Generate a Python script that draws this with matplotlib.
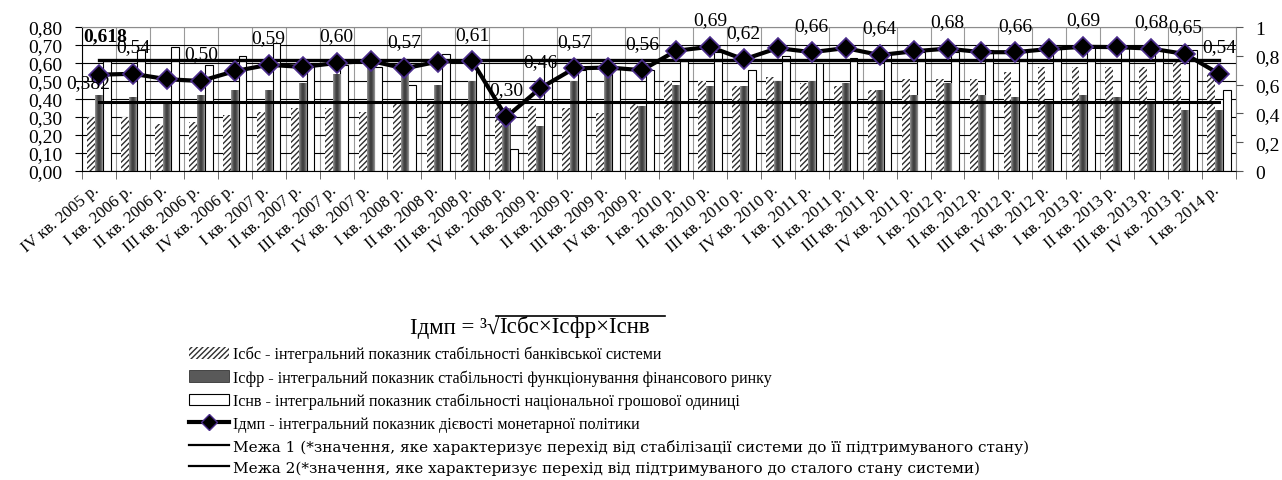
import matplotlib
matplotlib.use("Agg")
import matplotlib.pyplot as plt
import numpy as np
from matplotlib.lines import Line2D
from matplotlib.patches import Patch
from matplotlib.colors import LinearSegmentedColormap
from matplotlib.ticker import FuncFormatter, MultipleLocator, FixedLocator
from matplotlib.transforms import ScaledTranslation

plt.rcParams['font.family'] = ['Liberation Serif', 'DejaVu Serif']
plt.rcParams['hatch.linewidth'] = 1.0

# quarters on the x axis
quarters = ["IV кв. 2005 р.",
            "I кв. 2006 р.", "II кв. 2006 р.", "III кв. 2006 р.", "IV кв. 2006 р.",
            "I кв. 2007 р.", "II кв. 2007 р.", "III кв. 2007 р.", "IV кв. 2007 р.",
            "I кв. 2008 р.", "II кв. 2008 р.", "III кв. 2008 р.", "IV кв. 2008 р.",
            "I кв. 2009 р.", "II кв. 2009 р.", "III кв. 2009 р.", "IV кв. 2009 р.",
            "I кв. 2010 р.", "II кв. 2010 р.", "III кв. 2010 р.", "IV кв. 2010 р.",
            "I кв. 2011 р.", "II кв. 2011 р.", "III кв. 2011 р.", "IV кв. 2011 р.",
            "I кв. 2012 р.", "II кв. 2012 р.", "III кв. 2012 р.", "IV кв. 2012 р.",
            "I кв. 2013 р.", "II кв. 2013 р.", "III кв. 2013 р.", "IV кв. 2013 р.",
            "I кв. 2014 р."]

# bars
i_sbs = [0.30, 0.30, 0.26, 0.27, 0.31, 0.33, 0.35, 0.35, 0.33, 0.37, 0.37, 0.38,
         0.36, 0.36, 0.35, 0.32, 0.38, 0.50, 0.50, 0.47, 0.52, 0.49, 0.47, 0.45,
         0.51, 0.51, 0.51, 0.55, 0.58, 0.58, 0.58, 0.58, 0.61, 0.54]
i_sfr = [0.42, 0.41, 0.38, 0.42, 0.45, 0.45, 0.49, 0.54, 0.59, 0.57, 0.48, 0.50,
         0.35, 0.25, 0.50, 0.54, 0.36, 0.48, 0.47, 0.47, 0.50, 0.50, 0.49, 0.45,
         0.42, 0.49, 0.42, 0.41, 0.38, 0.42, 0.41, 0.39, 0.34, 0.34]
i_snv = [0.61, 0.67, 0.69, 0.59, 0.64, 0.71, 0.58, 0.59, 0.58, 0.48, 0.65, 0.60,
         0.12, 0.62, 0.56, 0.58, 0.56, 0.61, 0.66, 0.56, 0.64, 0.60, 0.63, 0.65,
         0.66, 0.66, 0.67, 0.66, 0.68, 0.69, 0.69, 0.68, 0.67, 0.45]

# integral index of monetary policy
i_dmp = [0.535, 0.54, 0.51, 0.50, 0.555, 0.59, 0.578, 0.60, 0.612, 0.57, 0.608, 0.61,
         0.30, 0.46, 0.57, 0.575, 0.56, 0.668, 0.69, 0.62, 0.683, 0.66, 0.683, 0.644,
         0.665, 0.68, 0.66, 0.66, 0.678, 0.69, 0.688, 0.68, 0.65, 0.54]
labelled = [1, 3, 5, 7, 9, 11, 12, 13, 14, 16, 18, 19, 21, 23, 25, 27, 29, 31, 32, 33]

mezha1 = 0.382
mezha2 = 0.618

def comma(v, nd=2):
    return f"{v:.{nd}f}".replace('.', ',')

W, H = 1282, 481
fig = plt.figure(figsize=(W / 100, H / 100), dpi=100)
ax = fig.add_axes([82 / W, 1 - 172 / H, (1236 - 82) / W, 144 / H])

n = len(quarters)
x = np.arange(n)
w = 0.23

ax.bar(x - w, i_sbs, w, color='white', edgecolor='#2e2e2e', hatch='//////', linewidth=0, zorder=2)
dark = ax.bar(x, i_sfr, w, color='#595959', edgecolor='#333333', linewidth=0.6, zorder=2)
ax.bar(x + w, i_snv, w, color='white', edgecolor='black', linewidth=0.8, zorder=2)

# shaded look of the dark bars
grad = np.abs(np.linspace(-1, 1, 32))[None, :]
cm = LinearSegmentedColormap.from_list('sh', ['#3a3a3a', '#5a5a5a', '#9a9a9a'])
for rect in dark:
    im = ax.imshow(grad, cmap=cm, aspect='auto', zorder=2.1, interpolation='bilinear',
                   extent=[rect.get_x(), rect.get_x() + rect.get_width(), 0, rect.get_height()])
    im.set_clip_path(rect)

ax.plot(x, [mezha1] * n, color='black', lw=2.2, zorder=3)
ax.plot(x, [mezha2] * n, color='black', lw=2.4, zorder=3)
ax.plot(x, i_dmp, color='black', lw=3, marker='D', ms=10, mfc='black',
        mec='#4b2c8c', mew=1.2, zorder=4)

for i in labelled:
    ax.annotate(comma(i_dmp[i]), (x[i], i_dmp[i]), xytext=(0, 19.5),
                textcoords='offset points', ha='center', va='center', fontsize=14, zorder=5)

ax.annotate(comma(mezha2, 3), (x[0], mezha2), xytext=(4.5, 17),
            textcoords='offset points', ha='center', va='center', fontsize=14,
            fontweight='bold', zorder=5)
ax.annotate(comma(mezha1, 3), (x[0], mezha1), xytext=(-8, 14),
            textcoords='offset points', ha='center', va='center', fontsize=14, zorder=5)

ax.set_xlim(-0.5, n - 0.5)
ax.set_ylim(0, 0.8)
ax.yaxis.set_major_locator(MultipleLocator(0.1))
ax.yaxis.set_major_formatter(FuncFormatter(lambda v, p: comma(v)))
ax.set_axisbelow(True)
ax.grid(axis='y', color='black', lw=0.8)
ax.xaxis.set_minor_locator(FixedLocator(np.arange(n + 1) - 0.5))
ax.grid(axis='x', which='minor', color='#9a9a9a', lw=0.8)

ax.set_xticks(x)
ax.set_xticklabels(quarters, rotation=40, ha='right', va='center', rotation_mode='anchor', fontsize=12)
ax.tick_params(axis='x', which='major', length=0, pad=12)
ax.tick_params(axis='x', which='minor', length=6, direction='out', color='#555555')
ax.tick_params(axis='y', length=5, direction='out', labelsize=14, pad=9)
shift = ScaledTranslation(-2 / 100, 0, fig.dpi_scale_trans)
for lab in ax.get_xticklabels():
    lab.set_transform(lab.get_transform() + shift)

for s in ['top', 'right']:
    ax.spines[s].set_color('#8c8c8c')

ax2 = ax.twinx()
ax2.set_ylim(0, 1)
ax2.yaxis.set_major_locator(MultipleLocator(0.2))
ax2.yaxis.set_major_formatter(FuncFormatter(lambda v, p: comma(round(v, 1), 1).replace(',0', '')))
ax2.tick_params(axis='y', length=5, direction='out', labelsize=14, pad=9, color='#555555')
for s in ['top', 'right', 'left', 'bottom']:
    ax2.spines[s].set_visible(False)

# formula above legend
fy = 1 - 327 / H
t1 = fig.text(410 / W, fy, "Ідмп = ³√", ha='left', va='center', fontsize=16.5)
fig.canvas.draw()
r = fig.canvas.get_renderer()
b1 = t1.get_window_extent(r)
t2 = fig.text(b1.x1 / W, fy, "Ісбс×Ісфр×Існв", ha='left', va='center', fontsize=16.5)
b2 = t2.get_window_extent(r)
yl = (b2.y1 - 1) / H
fig.add_artist(Line2D([(b1.x1 - 3) / W, (b2.x1 + 15) / W], [yl, yl], color='black', lw=1.2))

handles = [
    Patch(facecolor='white', edgecolor='#2e2e2e', hatch='//////', lw=0),
    Patch(facecolor='#595959', edgecolor='#333333', lw=0.6),
    Patch(facecolor='white', edgecolor='black', lw=0.8),
    Line2D([], [], color='black', lw=3, marker='D', ms=8, mfc='black', mec='#4b2c8c'),
    Line2D([], [], color='black', lw=1.6),
    Line2D([], [], color='black', lw=1.6),
]
labels = [
    "Ісбс - інтегральний показник стабільності банківської системи",
    "Ісфр - інтегральний показник стабільності функціонування фінансового ринку",
    "Існв - інтегральний показник стабільності національної грошової одиниці",
    "Ідмп - інтегральний показник дієвості монетарної політики",
    "Межа 1 (*значення, яке характеризує перехід від стабілізації системи до її підтримуваного стану)",
    "Межа 2(*значення, яке характеризує перехід від підтримуваного до сталого стану системи)",
]
leg = fig.legend(handles, labels, loc='upper left', bbox_to_anchor=(189 / W, 1 - 347 / H),
                 frameon=False, fontsize=11.6, handlelength=2.5, handletextpad=0.25,
                 labelspacing=0.42, borderpad=0, borderaxespad=0)
for t in leg.get_texts()[4:]:
    t.set_fontfamily(['DejaVu Serif'])
    t.set_fontsize(11.0)

fig.savefig("out.png", dpi=100)
